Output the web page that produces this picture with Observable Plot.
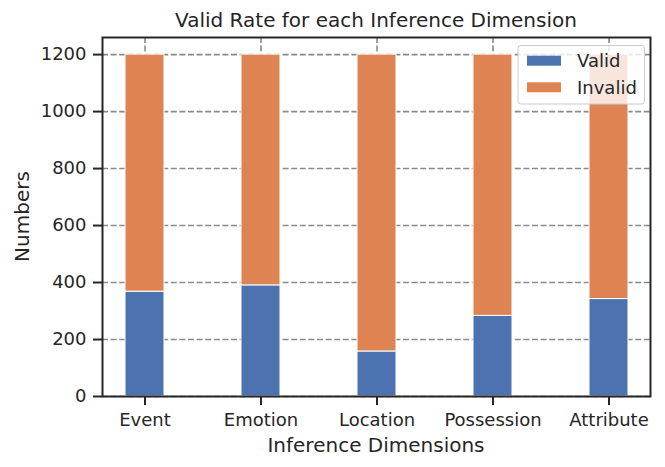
<!DOCTYPE html>
<html>
<head>
<meta charset="utf-8">
<script src="https://cdn.jsdelivr.net/npm/d3@7"></script>
<script src="https://cdn.jsdelivr.net/npm/@observablehq/plot@0.6"></script>
<style>
  html, body { margin: 0; padding: 0; background: white; }
  svg { display: block; }
</style>
</head>
<body>
<div id="chart"></div>
<script>
const dims = ["Event", "Emotion", "Location", "Possession", "Attribute"];
const valid = [368, 390, 158, 283, 342];
const invalid = [832, 810, 1042, 917, 858];
const series = ["Valid", "Invalid"];
const colors = ["#4C72B0", "#DD8452"];
const yTicks = [0, 200, 400, 600, 800, 1000, 1200];
const titleText = "Valid Rate for each Inference Dimension";
const xLabel = "Inference Dimensions";
const yLabel = "Numbers";

const rows = [];
dims.forEach((d, i) => {
  rows.push({dim: d, type: "Valid", value: valid[i]});
  rows.push({dim: d, type: "Invalid", value: invalid[i]});
});

const FONT = "'DejaVu Sans', sans-serif";
const INK = "#262626";
const GRID = "#8a8a8a";
const W = 665, H = 467;
const mL = 102, mR = 15, mT = 37, mB = 71;

const chart = Plot.plot({
  width: W,
  height: H,
  marginLeft: mL,
  marginRight: mR,
  marginTop: mT,
  marginBottom: mB,
  style: {fontFamily: FONT, fontSize: "18px", color: INK, background: "white"},
  x: {domain: dims, paddingInner: 0.666, paddingOuter: 0.18},
  y: {domain: [0, 1260]},
  color: {domain: series, range: colors},
  marks: [
    Plot.gridY(yTicks, {stroke: GRID, strokeOpacity: 1, strokeWidth: 1.6, strokeDasharray: "6,2.6"}),
    Plot.gridX(dims, {stroke: GRID, strokeOpacity: 1, strokeWidth: 1.6, strokeDasharray: "6,2.6"}),
    Plot.barY(rows, {x: "dim", y: "value", fill: "type", stroke: "white", strokeWidth: 1, inset: 0}),
    Plot.axisY(yTicks, {tickSize: 9, tickPadding: 7, strokeWidth: 2, stroke: INK, label: null, fontSize: 18, tickFormat: d3.format("d")}),
    Plot.axisX(dims, {tickSize: 9, tickPadding: 8, strokeWidth: 2, stroke: INK, label: null, fontSize: 18}),
    Plot.frame({stroke: INK, strokeWidth: 2})
  ]
});

document.getElementById("chart").appendChild(chart);

const svg = d3.select(chart);
const cx = mL + (W - mL - mR) / 2;

svg.append("text")
  .attr("x", cx).attr("y", 27)
  .attr("text-anchor", "middle")
  .attr("font-family", FONT).attr("font-size", 20)
  .attr("fill", INK)
  .text(titleText);

svg.append("text")
  .attr("x", cx).attr("y", 452)
  .attr("text-anchor", "middle")
  .attr("font-family", FONT).attr("font-size", 20)
  .attr("fill", INK)
  .text(xLabel);

svg.append("text")
  .attr("transform", `translate(29, ${mT + (H - mT - mB) / 2}) rotate(-90)`)
  .attr("text-anchor", "middle")
  .attr("font-family", FONT).attr("font-size", 20)
  .attr("fill", INK)
  .text(yLabel);

// legend
const lg = svg.append("g");
lg.append("rect")
  .attr("x", 518).attr("y", 45.5).attr("width", 126.5).attr("height", 58.5)
  .attr("rx", 3)
  .attr("fill", "white").attr("fill-opacity", 0.8)
  .attr("stroke", "#cccccc").attr("stroke-width", 1);
series.forEach((s, i) => {
  const y0 = 55.7 + i * 26.6;
  lg.append("rect")
    .attr("x", 527).attr("y", y0).attr("width", 34).attr("height", 10)
    .attr("fill", colors[i]);
  lg.append("text")
    .attr("x", 577).attr("y", y0 + 11.5)
    .attr("text-anchor", "start")
    .attr("font-family", FONT).attr("font-size", 18)
    .attr("fill", INK)
    .text(s);
});
</script>
</body>
</html>
